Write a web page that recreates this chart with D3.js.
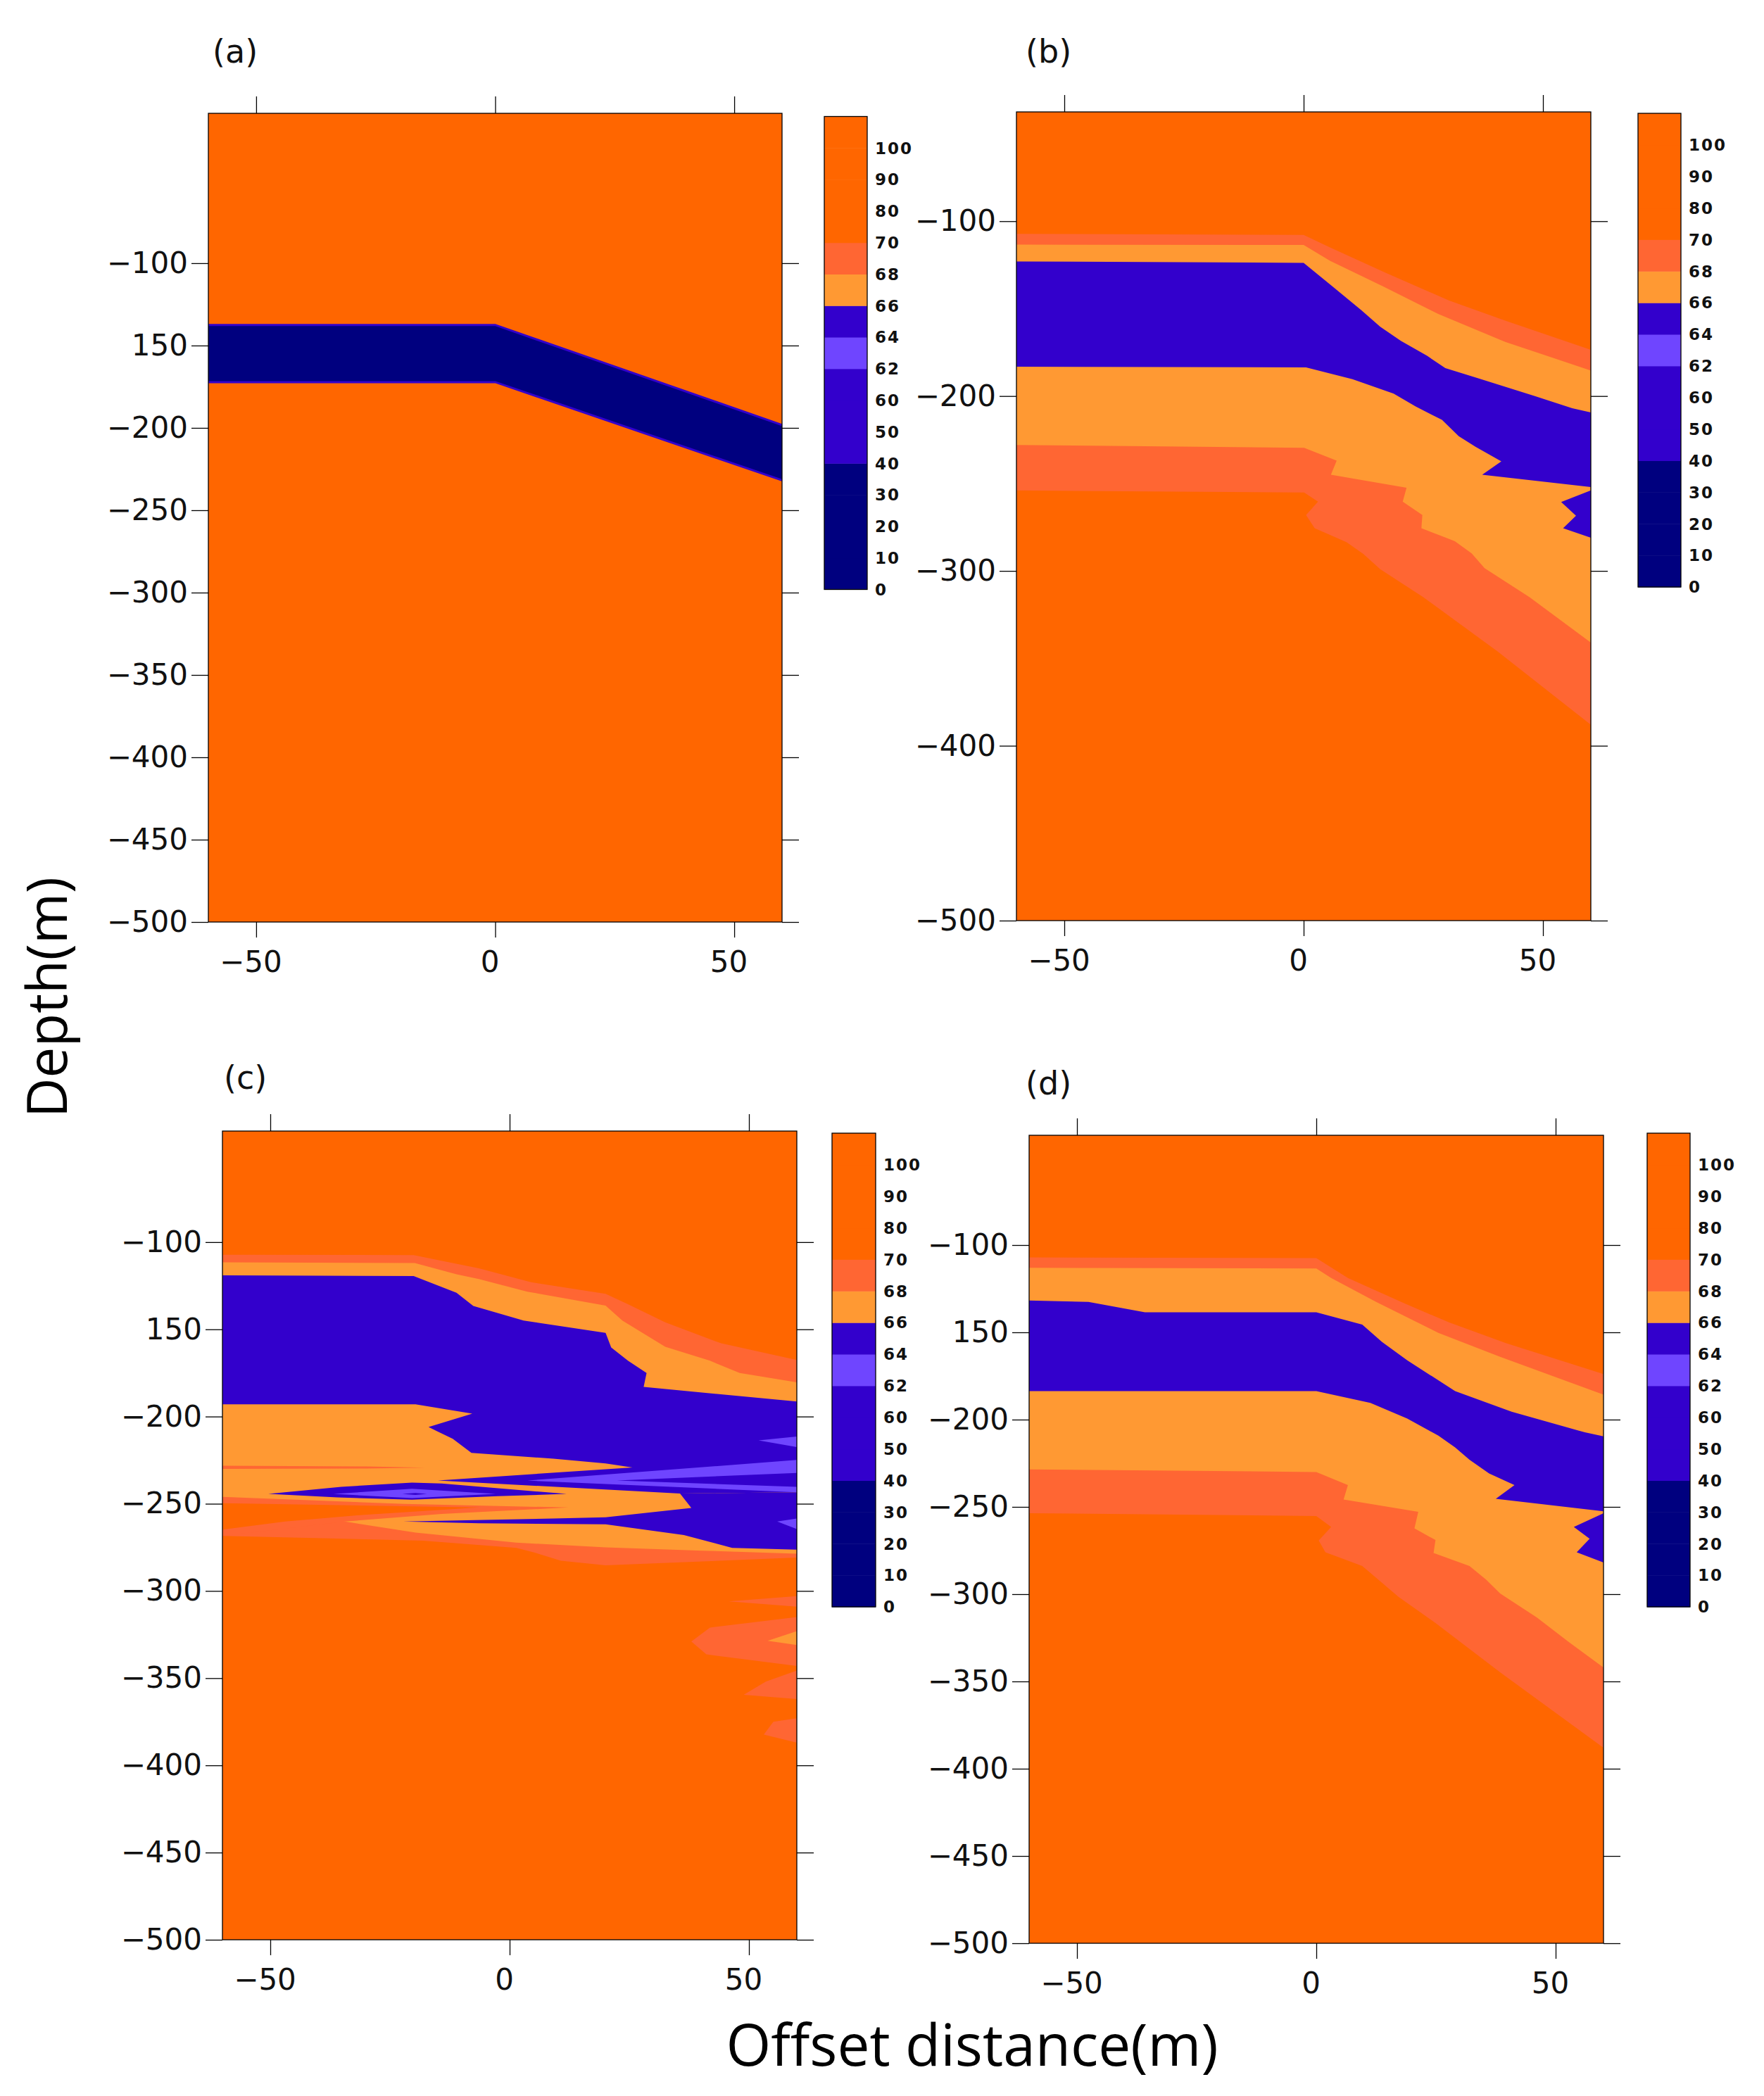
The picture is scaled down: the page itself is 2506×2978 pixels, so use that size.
<!DOCTYPE html>
<html lang="en">
<head>
<meta charset="UTF-8">
<title>Saturation sections</title>
<style>
    body { margin: 0; background: #fff; }
    svg { display: block; }
    .cbar-label { font-family: 'DejaVu Sans', sans-serif; font-weight: bold; font-size: 23px; letter-spacing: 2px; fill: #111; }
    .panel-tag { font-family: 'DejaVu Sans', sans-serif; font-size: 46px; fill: #111; }
    .axis-title { font-family: 'Open Sans', sans-serif; fill: #000; }
</style>
</head>
<body>
<svg id="chart" width="2506" height="2978"></svg>

<script src="https://d3js.org/d3.v7.min.js"></script>
<script>
    const svg = d3.select("#chart");

    const C = {
        orange: "#FF6600", coral: "#FF6633", light: "#FF9933",
        violet: "#3300CC", lilac: "#6F45FF", navy: "#00007F"
    };

    // colour bar: labels on the class boundaries, colour of each class (bottom to top)
    const levelLabels = ["0", "10", "20", "30", "40", "50", "60", "62", "64", "66", "68", "70", "80", "90", "100"];
    const classColors = [C.navy, C.navy, C.navy, C.navy, C.violet, C.violet, C.violet, C.lilac,
                         C.violet, C.light, C.coral, C.orange, C.orange, C.orange, C.orange];

    // axes
    const xTicks = [-50, 0, 50];
    const xTickLabels = ["\u221250", "0", "50"];
    const yTicks50 = [-100, -150, -200, -250, -300, -350, -400, -450, -500];
    const yLabels50 = ["\u2212100", "150", "\u2212200", "\u2212250", "\u2212300", "\u2212350", "\u2212400", "\u2212450", "\u2212500"];
    const yTicks100 = [-100, -200, -300, -400, -500];
    const yLabels100 = ["\u2212100", "\u2212200", "\u2212300", "\u2212400", "\u2212500"];

    // (a) boundaries of the low band  [offset, depth]
    const aBandTop = [[-60, -137.5], [0, -137.5], [60, -198.2]];
    const aBandBottom = [[-60, -172.2], [0, -172.2], [60, -231.8]];

    // (b)
    const bCoralTop = [[-60, -107.2], [0, -107.8], [5.5, -115], [17.2, -129.6], [30.4, -145.4], [42.1, -156.8], [60, -173.6]];
    const bLightTop = [[-60, -113.4], [0, -113.6], [5.5, -122.6], [16.4, -137], [28.1, -153], [42.1, -169], [60, -185.4]];
    const bBlueTop = [[-60, -123], [0, -123.8], [5.9, -137], [12.1, -151], [16.0, -160.4], [20.3, -168.4], [25.8, -177],
                      [29.6, -184], [36.6, -190], [48.3, -200], [56.1, -207], [60, -209.4]];
    const bBlueBottom = [[-60, -183.2], [0.5, -183.6], [10.2, -190.4], [18.8, -198.6], [23.4, -206], [28.9, -213.6],
                         [32.4, -223], [35.9, -229], [41.3, -237.4], [37.3, -245], [60, -252]];
    const bLightBottom = [[-60, -228], [0.1, -229.6], [6.9, -237], [5.7, -245], [21.5, -252.4], [20.7, -260.4], [24.8, -268],
                          [24.6, -275.6], [31.6, -283], [35.1, -290], [37.8, -298.4], [47.2, -315], [60, -341]];
    const bCoralBottom = [[-60, -254], [0.1, -255.2], [3.0, -260.4], [0.5, -268], [2.3, -275.6], [9.0, -283.6],
                          [12.5, -290.4], [16.0, -299], [25.0, -315], [40.5, -346], [60, -388]];
    const bBlob = [[60, -254], [53.8, -260.6], [56.9, -268.4], [54.2, -275.6], [60, -281]];

    // (c)
    const cCoralTop = [[-60, -107.2], [-20.05, -107.4], [-6.43, -115], [4.48, -123], [20.05, -129.6], [24.72, -135.6],
                       [32.51, -146], [44.19, -158], [60, -167.6]];
    const cCoralBottom = [[-60, -268.5], [-37.6, -269.9], [-18.1, -271.2], [1.4, -275.3], [5.25, -278], [10.7, -282.7],
                          [20.05, -285.3], [40.3, -283.1], [60, -280.9]];
    const cLightTop = [[-60, -111.6], [-19.82, -112], [-11.1, -118.4], [-6.43, -121.2], [3.7, -128.4], [20.05, -136.4],
                       [23.55, -145], [32.51, -160], [41.85, -168], [48.08, -175], [60, -180.4]];
    const cLightBottom = [[-60, -260.2], [-34.46, -260.2], [-19.66, -266.5], [1.36, -272.3], [20.05, -275],
                          [40.3, -276.9], [60, -278.6]];
    const cCoralThread = [[-60, -228.2], [-30, -228.6], [-17.7, -229.3], [-30, -229.8], [-60, -230.0]];
    const cBlueTop = [[-60, -119], [-40.3, -119.2], [-20.05, -119.4], [-11.1, -129], [-7.59, -136.6], [2.92, -145],
                      [20.05, -152], [21.22, -160.4], [24.72, -168], [28.61, -175], [28.0, -183], [60, -191.4]];
    const cBlueBase = [[60, -243.4], [35.6, -244.1], [-15, -236.7], [25.66, -229.16], [20.05, -226.9], [9.15, -224.2],
                       [-7.98, -220.8], [-11.88, -212.8], [-16.94, -206.05], [-7.8, -198.3], [-19.66, -193], [-60, -193]];
    const cLowerBlue = [[60, -243.4], [35.6, -244.1], [37.96, -252.4], [20.05, -257.8], [9.15, -258.5], [-22.2, -260.2],
                        [-6.4, -261.2], [20.05, -261.8], [36.4, -267.9], [46.5, -275.3], [60, -276.3]];
    const cLens = [[-50.4, -244.35], [-35.2, -240.3], [-20.4, -237.9], [-14.2, -238.4], [11.9, -244.35],
                   [-2.5, -245.7], [-20.4, -247.7], [-36, -246.4]];
    const cLensCore = [[-36.8, -244.35], [-20.4, -241.4], [-2.9, -244.35], [-20.4, -246.8]];
    const cLensSeam = [[-22.4, -244.35], [-19.7, -243.8], [-17.3, -244.35], [-19.7, -244.9]];
    const cStreak = [[3.7, -236.7], [60, -224.9], [60, -232.3], [22.4, -236.7], [60, -240.3], [60, -243.4]];
    const cSpeckUpper = [[52, -213.7], [60, -211.4], [60, -217.5]];
    const cSpeckLower = [[55.9, -260.2], [60, -258.5], [60, -264.5]];
    const cCoralWedge = [[-60, -246.1], [-22, -250.1], [12.26, -252.15], [-14.2, -255.8], [-34.46, -260.2], [-60, -268.5]];
    const cOrangeWedge = [[-60, -249.7], [-29.8, -251.1], [-6.4, -252.15], [-29.8, -256.2], [-46.9, -260.2], [-60, -264.8]];
    const cDeep1 = [[45.75, -306], [60, -303], [60, -309]];
    const cDeep2 = [[37.96, -329], [41.85, -321], [60, -315], [60, -343], [41.1, -336.4]];
    const cDeep2Light = [[53.9, -328.6], [60, -323], [60, -331]];
    const cDeep3 = [[48.9, -359.6], [53.5, -352], [60, -345.6], [60, -362]];
    const cDeep4 = [[53.1, -382.4], [55.1, -375], [60, -373], [60, -387]];

    // (d)
    const dCoralTop = [[-60, -107.1], [0, -107.5], [6.6, -118.9], [18.4, -133.4], [27.8, -144.4], [39.6, -156.2], [60, -173.9]];
    const dLightTop = [[-60, -113], [0, -113.4], [3.1, -118.9], [12.5, -132.6], [25.5, -150.3], [38.4, -164], [60, -185.7]];
    const dBlueTop = [[-60, -131.8], [-47.6, -132.6], [-35.8, -138.5], [0, -138.5], [9.6, -145.6], [13.7, -155.4],
                      [19.0, -166], [29.0, -183.7], [40.8, -195.5], [56.1, -207.3], [60, -209.6]];
    const dBlueBottom = [[-60, -183.7], [0, -183.7], [11.3, -190.4], [19, -199.4], [25.5, -209.2], [29, -215.9],
                         [32, -223], [36.1, -230.8], [41.4, -237.5], [37.5, -245.4], [60, -252.5]];
    const dLightBottom = [[-60, -228.5], [0, -230], [6.6, -237.5], [5.7, -245.8], [21.3, -252.8], [20.5, -262.3], [24.9, -269],
                          [24.5, -276.4], [32, -283.9], [35.5, -291.7], [38.4, -299.6], [46.1, -313.4], [52.6, -327.1], [60, -342]];
    const dCoralBottom = [[-60, -253.6], [0, -255.2], [3.1, -261.5], [0.5, -269.3], [1.9, -276], [9.6, -283.9],
                          [12.5, -290.6], [17.2, -301.6], [24.9, -316.5], [38.4, -344.8], [60, -388]];
    const dBlob = [[60, -253.6], [53.8, -261.5], [57.1, -268.2], [54.4, -276], [60, -281.9]];

    function band(top, bottom) {
        return top.concat(bottom.slice().reverse());
    }

    const panels = [
        {
            tag: "(a)", tagAt: [302, 89], box: { x0: 296, x1: 1111, y0: 161, y1: 1310 }, yTop: -9,
            yTicks: yTicks50, yLabels: yLabels50, cbar: { x: 1171, y: 165.5, w: 61, h: 672 },
            layers: [{ fill: C.navy, pts: band(aBandTop, aBandBottom) }],
            edges: [aBandTop, aBandBottom]
        },
        {
            tag: "(b)", tagAt: [1457, 89], box: { x0: 1444, x1: 2260, y0: 159, y1: 1308 }, yTop: -37.5,
            yTicks: yTicks100, yLabels: yLabels100, cbar: { x: 2327, y: 161, w: 61, h: 673 },
            layers: [
                { fill: C.coral, pts: band(bCoralTop, bCoralBottom) },
                { fill: C.light, pts: band(bLightTop, bLightBottom) },
                { fill: C.violet, pts: band(bBlueTop, bBlueBottom) },
                { fill: C.violet, pts: bBlob }
            ],
            edges: []
        },
        {
            tag: "(c)", tagAt: [318, 1547], box: { x0: 316, x1: 1132, y0: 1607, y1: 2756 }, yTop: -36.3,
            yTicks: yTicks50, yLabels: yLabels50, cbar: { x: 1182, y: 1610, w: 62, h: 673 },
            layers: [
                { fill: C.coral, pts: band(cCoralTop, cCoralBottom) },
                { fill: C.light, pts: band(cLightTop, cLightBottom) },
                { fill: C.coral, pts: cCoralThread },
                { fill: C.violet, pts: cBlueTop.concat(cBlueBase) },
                { fill: C.violet, pts: cLowerBlue },
                { fill: C.violet, pts: cLens },
                { fill: C.lilac, pts: cLensCore },
                { fill: C.violet, pts: cLensSeam },
                { fill: C.lilac, pts: cStreak },
                { fill: C.lilac, pts: cSpeckUpper },
                { fill: C.lilac, pts: cSpeckLower },
                { fill: C.coral, pts: cCoralWedge },
                { fill: C.orange, pts: cOrangeWedge },
                { fill: C.coral, pts: cDeep1 },
                { fill: C.coral, pts: cDeep2 },
                { fill: C.light, pts: cDeep2Light },
                { fill: C.coral, pts: cDeep3 },
                { fill: C.coral, pts: cDeep4 }
            ],
            edges: []
        },
        {
            tag: "(d)", tagAt: [1457, 1555], box: { x0: 1462, x1: 2278, y0: 1613, y1: 2761 }, yTop: -37.1,
            yTicks: yTicks50, yLabels: yLabels50, cbar: { x: 2340, y: 1610, w: 61, h: 673 },
            layers: [
                { fill: C.coral, pts: band(dCoralTop, dCoralBottom) },
                { fill: C.light, pts: band(dLightTop, dLightBottom) },
                { fill: C.violet, pts: band(dBlueTop, dBlueBottom) },
                { fill: C.violet, pts: dBlob }
            ],
            edges: []
        }
    ];

    const defs = svg.append("defs");

    panels.forEach((p, k) => {
        const g = svg.append("g");
        const x = d3.scaleLinear().domain([-60, 60]).range([p.box.x0, p.box.x1]);
        const y = d3.scaleLinear().domain([-500, p.yTop]).range([p.box.y1, p.box.y0]);
        const line = d3.line().x(d => x(d[0])).y(d => y(d[1]));

        defs.append("clipPath").attr("id", "clip" + k)
            .append("rect")
            .attr("x", x(-60)).attr("y", y(p.yTop))
            .attr("width", x(60) - x(-60)).attr("height", y(-500) - y(p.yTop));

        const plot = g.append("g").attr("clip-path", `url(#clip${k})`);

        // base class fills the whole section
        plot.append("rect")
            .attr("x", x(-60)).attr("y", y(p.yTop))
            .attr("width", x(60) - x(-60)).attr("height", y(-500) - y(p.yTop))
            .attr("fill", C.orange);

        plot.selectAll(null)
            .data(p.layers)
            .enter().append("path")
            .attr("d", d => line(d.pts) + "Z")
            .attr("fill", d => d.fill);

        plot.selectAll(null)
            .data(p.edges)
            .enter().append("path")
            .attr("d", d => line(d))
            .attr("fill", "none")
            .attr("stroke", C.violet)
            .attr("stroke-width", 3);

        // frame
        g.append("rect")
            .attr("x", x(-60)).attr("y", y(p.yTop))
            .attr("width", x(60) - x(-60)).attr("height", y(-500) - y(p.yTop))
            .attr("fill", "none").attr("stroke", "#000").attr("stroke-width", 1.3);

        // axes
        const styleAxis = s => {
            s.select(".domain").remove();
            s.attr("font-family", "'DejaVu Sans', sans-serif").attr("font-size", 42);
            s.selectAll(".tick line").attr("stroke", "#000").attr("stroke-width", 1.3);
            s.selectAll(".tick text").attr("fill", "#111");
        };

        g.append("g")
            .attr("transform", `translate(${p.box.x0},0)`)
            .call(d3.axisLeft(y).tickValues(p.yTicks).tickFormat((d, i) => p.yLabels[i]).tickSize(24).tickPadding(5))
            .call(styleAxis);

        g.append("g")
            .attr("transform", `translate(${p.box.x1},0)`)
            .call(d3.axisRight(y).tickValues(p.yTicks).tickFormat("").tickSize(24))
            .call(styleAxis);

        g.append("g")
            .attr("transform", `translate(0,${p.box.y0})`)
            .call(d3.axisTop(x).tickValues(xTicks).tickFormat("").tickSize(24))
            .call(styleAxis);

        g.append("g")
            .attr("transform", `translate(0,${p.box.y1})`)
            .call(d3.axisBottom(x).tickValues(xTicks).tickFormat((d, i) => xTickLabels[i]).tickSize(22).tickPadding(19))
            .call(styleAxis)
            .call(s => s.selectAll(".tick text").attr("dx", -8));

        // colour bar
        const cb = p.cbar;
        const yc = d3.scaleLinear().domain([0, classColors.length]).range([cb.y + cb.h, cb.y]);
        g.selectAll(null)
            .data(classColors)
            .enter().append("rect")
            .attr("x", cb.x).attr("width", cb.w)
            .attr("y", (d, i) => yc(i + 1))
            .attr("height", (d, i) => yc(i) - yc(i + 1) + 0.5)
            .attr("fill", d => d);
        g.append("rect")
            .attr("x", cb.x).attr("y", cb.y).attr("width", cb.w).attr("height", cb.h)
            .attr("fill", "none").attr("stroke", "#000").attr("stroke-width", 1.3);
        g.selectAll(null)
            .data(levelLabels)
            .enter().append("text")
            .attr("class", "cbar-label")
            .attr("x", cb.x + cb.w + 11)
            .attr("y", (d, i) => yc(i))
            .attr("dy", "0.36em")
            .text(d => d);

        g.append("text")
            .attr("class", "panel-tag")
            .attr("x", p.tagAt[0]).attr("y", p.tagAt[1])
            .text(p.tag);
    });

    svg.append("text")
        .attr("class", "axis-title")
        .attr("transform", "translate(95,1417) rotate(-90)")
        .attr("text-anchor", "middle")
        .attr("font-size", 78)
        .text("Depth(m)");

    svg.append("text")
        .attr("class", "axis-title")
        .attr("x", 1381).attr("y", 2935)
        .attr("text-anchor", "middle")
        .attr("font-size", 82)
        .text("Offset distance(m)");
</script>
</body>
</html>
